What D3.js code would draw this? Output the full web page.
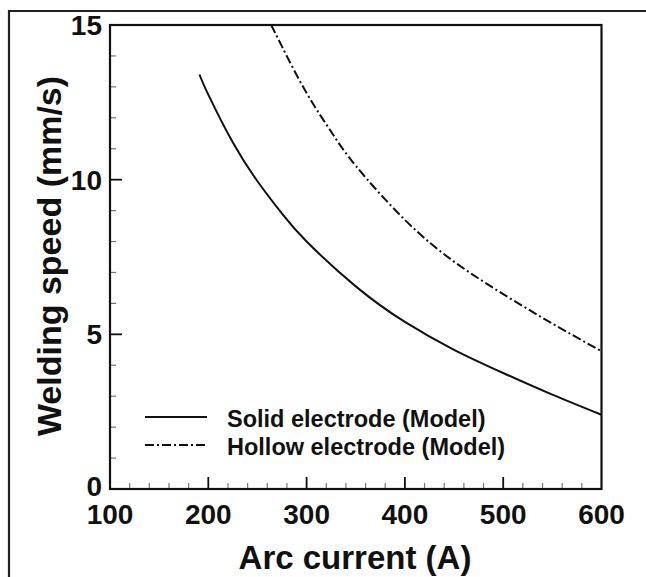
<!DOCTYPE html>
<html>
<head>
<meta charset="utf-8">
<script src="https://cdn.jsdelivr.net/npm/d3@7"></script>
<style>
  html, body { margin: 0; padding: 0; background: #fff; }
  svg { display: block; font-family: "Liberation Sans", Arial, Helvetica, sans-serif; font-weight: bold; }
</style>
</head>
<body>
<svg id="chart" width="646" height="577"></svg>
<script>
// ---- data ----
const solidCurrent = [191, 200, 225, 250, 275, 300, 350, 400, 450, 500, 550, 600];
const solidSpeed   = [13.4, 12.75, 11.2, 9.95, 8.9, 8.0, 6.55, 5.4, 4.5, 3.75, 3.05, 2.4];

const hollowCurrent = [264, 275, 300, 325, 350, 400, 450, 500, 550, 600];
const hollowSpeed   = [15.0, 14.3, 12.8, 11.55, 10.45, 8.7, 7.35, 6.3, 5.35, 4.45];

const xTicks = [100, 200, 300, 400, 500, 600];
const yTicks = [0, 5, 10, 15];
const xMinor = d3.range(100, 601, 20);
const yMinor = d3.range(0, 15.01, 1);

const seriesNames = ["Solid electrode (Model)", "Hollow electrode (Model)"];
const xTitle = "Arc current (A)";
const yTitle = "Welding speed (mm/s)";

// ---- layout ----
const svg = d3.select("#chart");
const L = 110, R = 601.5, T = 25, B = 489;
const x = d3.scaleLinear().domain([100, 600]).range([L, R]);
const y = d3.scaleLinear().domain([0, 15]).range([B, T]);

// outer frame (top and left edges)
svg.append("path")
  .attr("d", `M9,577 L9,11 L646,11`)
  .attr("fill", "none").attr("stroke", "#222").attr("stroke-width", 2.2);

// clip
svg.append("clipPath").attr("id", "clip")
  .append("rect").attr("x", L).attr("y", T).attr("width", R - L).attr("height", B - T);

// minor ticks
const g = svg.append("g");
g.selectAll("line.xm").data(xMinor.filter(v => v % 100 !== 0)).join("line")
  .attr("x1", d => x(d)).attr("x2", d => x(d))
  .attr("y1", B).attr("y2", B - 6)
  .attr("stroke", "#777").attr("stroke-width", 1.2);
g.selectAll("line.ym").data(yMinor.filter(v => v % 5 !== 0)).join("line")
  .attr("x1", L).attr("x2", L + 6)
  .attr("y1", d => y(d)).attr("y2", d => y(d))
  .attr("stroke", "#777").attr("stroke-width", 1.2);

// major ticks
g.selectAll("line.xM").data(xTicks.filter(v => v > 100 && v < 600)).join("line")
  .attr("x1", d => x(d)).attr("x2", d => x(d))
  .attr("y1", B).attr("y2", B - 12)
  .attr("stroke", "#111").attr("stroke-width", 1.8);
g.selectAll("line.yM").data(yTicks.filter(v => v > 0 && v < 15)).join("line")
  .attr("x1", L).attr("x2", L + 12)
  .attr("y1", d => y(d)).attr("y2", d => y(d))
  .attr("stroke", "#111").attr("stroke-width", 1.8);

// plot box
svg.append("rect")
  .attr("x", L).attr("y", T).attr("width", R - L).attr("height", B - T)
  .attr("fill", "none").attr("stroke", "#111").attr("stroke-width", 2.2);

// tick labels
svg.selectAll("text.xl").data(xTicks).join("text")
  .attr("x", d => x(d)).attr("y", B + 35)
  .attr("text-anchor", "middle").attr("font-size", 28).attr("fill", "#111")
  .text(d => d);
svg.selectAll("text.yl").data(yTicks).join("text")
  .attr("x", 102).attr("y", d => y(d) + (d === 0 ? 7 : 10))
  .attr("text-anchor", "end").attr("font-size", 28).attr("fill", "#111")
  .text(d => d);

// axis titles
svg.append("text").attr("x", 355).attr("y", 569)
  .attr("text-anchor", "middle").attr("font-size", 33).attr("fill", "#111")
  .text(xTitle);
svg.append("text")
  .attr("transform", `translate(61,256) rotate(-90)`)
  .attr("text-anchor", "middle").attr("font-size", 34).attr("fill", "#111")
  .text(yTitle);

// curves
const line = d3.line().x(d => x(d[0])).y(d => y(d[1])).curve(d3.curveNatural);
const solidData = solidCurrent.map((c, i) => [c, solidSpeed[i]]);
const hollowData = hollowCurrent.map((c, i) => [c, hollowSpeed[i]]);
const dashDot = "9,3,2,3";

svg.append("path").datum(solidData)
  .attr("clip-path", "url(#clip)")
  .attr("d", line).attr("fill", "none").attr("stroke", "#111").attr("stroke-width", 2);
svg.append("path").datum(hollowData)
  .attr("clip-path", "url(#clip)")
  .attr("d", line).attr("fill", "none").attr("stroke", "#111").attr("stroke-width", 2)
  .attr("stroke-dasharray", dashDot);

// legend
const legend = svg.append("g");
const legY = [417, 445];
legend.selectAll("line").data(seriesNames).join("line")
  .attr("x1", 145).attr("x2", 207)
  .attr("y1", (d, i) => legY[i]).attr("y2", (d, i) => legY[i])
  .attr("stroke", "#111").attr("stroke-width", 2)
  .attr("stroke-dasharray", (d, i) => i === 1 ? dashDot : null);
legend.selectAll("text").data(seriesNames).join("text")
  .attr("x", 227).attr("y", (d, i) => legY[i] + 10)
  .attr("font-size", 23.5).attr("fill", "#111")
  .text(d => d);
</script>
</body>
</html>
